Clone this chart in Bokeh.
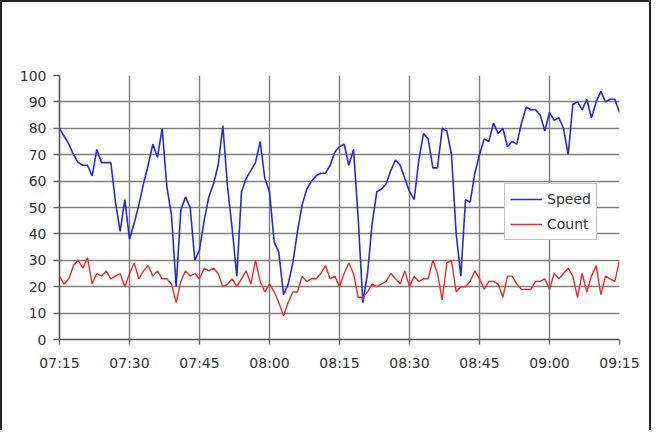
from bokeh.plotting import figure
from bokeh.models import FixedTicker, Legend, LegendItem, Range1d
from bokeh.embed import file_html
from bokeh.resources import INLINE

# minutes after 07:15
minutes = list(range(121))
tick_positions = [0, 15, 30, 45, 60, 75, 90, 105, 120]
tick_labels = ["07:15", "07:30", "07:45", "08:00", "08:15", "08:30", "08:45", "09:00", "09:15"]

speed = [80, 77, 74, 70, 67, 66, 66, 62, 72, 67, 67, 67, 52, 41, 53, 38, 44, 51, 59, 66,
         74, 69, 80, 58, 47, 20, 49, 54, 50, 30, 34, 45, 54, 59, 66, 81, 58, 42, 24, 56,
         61, 64, 67, 75, 61, 56, 37, 33, 17, 21, 29, 41, 51, 57, 60, 62, 63, 63, 66, 71,
         73, 74, 66, 72, 46, 14, 25, 44, 56, 57, 59, 64, 68, 66, 61, 56, 53, 68, 78, 76,
         65, 65, 80, 79, 70, 40, 24, 53, 52, 63, 70, 76, 75, 82, 78, 80, 73, 75, 74, 82,
         88, 87, 87, 85, 79, 86, 83, 84, 80, 70, 89, 90, 87, 91, 84, 90, 94, 90, 91, 91,
         86]

count = [24, 21, 23, 28, 30, 27, 31, 21, 25, 24, 26, 23, 24, 25, 20, 25, 29, 23, 26, 28,
         24, 26, 23, 23, 21, 14, 22, 26, 24, 25, 23, 27, 26, 27, 25, 20, 21, 23, 20, 23,
         26, 21, 30, 22, 18, 21, 18, 14, 9, 14, 18, 18, 24, 22, 23, 23, 25, 28, 23, 24,
         20, 25, 29, 25, 16, 16, 18, 21, 20, 21, 22, 25, 23, 21, 26, 20, 24, 22, 23, 23,
         30, 25, 15, 29, 30, 18, 20, 20, 22, 26, 23, 19, 22, 22, 21, 16, 24, 24, 21, 19,
         19, 19, 22, 22, 23, 19, 25, 23, 25, 27, 24, 16, 25, 18, 24, 28, 17, 24, 23, 22,
         30]

y_ticks = list(range(0, 101, 10))

p = figure(width=651, height=430, output_backend="svg", toolbar_location=None,
           x_range=Range1d(0, 120), y_range=Range1d(0, 100),
           min_border_left=57, min_border_right=34, min_border_top=73, min_border_bottom=93)
p.styles = {"border-left": "2px solid #222", "border-top": "2px solid #222",
            "border-right": "2px solid #222"}
p.outline_line_color = None
p.background_fill_color = "white"
p.border_fill_color = "white"

r1 = p.line(minutes, speed, line_color="#2a2ad6", line_width=1.6)
r2 = p.line(minutes, count, line_color="#ee2b2b", line_width=1.4)

for ax in (p.xaxis[0], p.yaxis[0]):
    ax.axis_line_color = "#555555"
    ax.axis_line_width = 1.6
    ax.major_tick_line_color = "#666666"
    ax.major_tick_line_width = 1.4
    ax.minor_tick_line_color = None
    ax.major_tick_in = 0
    ax.major_label_text_font = "DejaVu Sans"
    ax.major_label_text_font_size = "14px"
    ax.major_label_text_color = "#333333"

p.xaxis[0].ticker = FixedTicker(ticks=tick_positions)
p.xaxis[0].major_label_overrides = {pos: lab for pos, lab in zip(tick_positions, tick_labels)}
p.xaxis[0].major_tick_out = 5
p.xaxis[0].major_label_standoff = 10
p.yaxis[0].ticker = FixedTicker(ticks=y_ticks)
p.yaxis[0].major_tick_out = 6
p.yaxis[0].major_label_standoff = 7

p.xgrid.ticker = FixedTicker(ticks=tick_positions)
p.ygrid.ticker = FixedTicker(ticks=y_ticks)
for g in (p.xgrid[0], p.ygrid[0]):
    g.grid_line_color = "#808080"
    g.grid_line_width = 1.5

legend = Legend(items=[LegendItem(label="Speed", renderers=[r1]),
                       LegendItem(label="Count", renderers=[r2])],
                location=(445, 99), orientation="vertical")
legend.label_text_font = "DejaVu Sans"
legend.label_text_font_size = "14px"
legend.label_text_color = "#333333"
legend.glyph_width = 32
legend.glyph_height = 20
legend.label_height = 20
legend.spacing = 5
legend.padding = 5
legend.margin = 0
legend.label_standoff = 5
legend.border_line_color = "#888888"
legend.border_line_width = 1.2
legend.background_fill_color = "white"
legend.background_fill_alpha = 1.0
p.add_layout(legend, "center")

open("out.html", "w").write(file_html(p, INLINE))
